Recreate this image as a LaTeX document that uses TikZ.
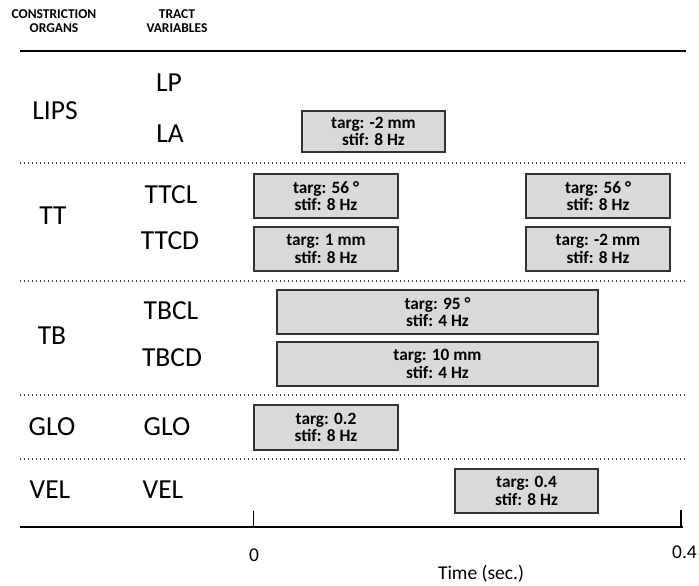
\documentclass[tikz,border=0pt]{standalone}
\usepackage{fontspec}
\setmainfont{Carlito}
\begin{document}
\begin{tikzpicture}[x=1pt,y=-1pt,
  gest/.style={draw=black!80,line width=1.1pt,fill=black!15,inner sep=0pt,font=\bfseries\fontsize{17.3}{17.5}\selectfont,align=center},
  big/.style={font=\fontsize{27.5}{29}\selectfont,inner sep=0pt},
  hdr/.style={font=\bfseries\fontsize{13.5}{13.5}\selectfont,align=center,inner sep=0pt},
  sep/.style={draw=black!70,line width=1.3pt,dash pattern=on 1.3pt off 2.7pt},
  axis/.style={line width=2.8pt},
  ax/.style={font=\fontsize{19.5}{21}\selectfont,inner sep=0pt}]
\useasboundingbox (0,0) rectangle (699,586);
% header
\node[hdr] (h1) at (54,21) {CONSTRICTION\\ORGANS};
\node[hdr] (h2) at (177,21) {TRACT\\VARIABLES};
\coordinate (tl) at (20,51); \coordinate (tr) at (686,51);
\draw[axis] (tl) -- (tr);
% labels
\node[big] (lips) at (55,111) {LIPS};
\node[big] (lp) at (169,83) {LP};
\node[big] (la) at (170,134) {LA};
\node[big] (tt) at (53,216) {TT};
\node[big] (ttcl) at (171,195) {TTCL};
\node[big] (ttcd) at (170,241) {TTCD};
\node[big] (tb) at (52,336) {TB};
\node[big] (tbcl) at (171,311) {TBCL};
\node[big] (tbcd) at (172,358) {TBCD};
\node[big] (glo1) at (52,427) {GLO};
\node[big] (glo2) at (167,427) {GLO};
\node[big] (vel1) at (50,490) {VEL};
\node[big] (vel2) at (163,490) {VEL};
% separators
\foreach \y/\n in {163/s1,281/s2,395/s3,459/s4}{
  \coordinate (\n a) at (20,\y); \coordinate (\n b) at (686,\y);
  \draw[sep] (\n a) -- (\n b);
}
% gestures
\node[gest,minimum width=143pt,minimum height=41pt] (bla) at (373.5,131.5) {targ: -2 mm\\stif: 8 Hz};
\node[gest,minimum width=144pt,minimum height=44pt] (bttcl1) at (326,196) {targ: 56 \textdegree\\stif: 8 Hz};
\node[gest,minimum width=144pt,minimum height=44pt] (bttcl2) at (598,196) {targ: 56 \textdegree\\stif: 8 Hz};
\node[gest,minimum width=144pt,minimum height=44pt] (bttcd1) at (326,249) {targ: 1 mm\\stif: 8 Hz};
\node[gest,minimum width=144pt,minimum height=44pt] (bttcd2) at (598,249) {targ: -2 mm\\stif: 8 Hz};
\node[gest,minimum width=321pt,minimum height=44pt] (btbcl) at (437.5,312) {targ: 95 \textdegree\\stif: 4 Hz};
\node[gest,minimum width=321pt,minimum height=44pt] (btbcd) at (437.5,364) {targ: 10 mm\\stif: 4 Hz};
\node[gest,minimum width=144pt,minimum height=45pt] (bglo) at (326,427.5) {targ: 0.2\\stif: 8 Hz};
\node[gest,minimum width=143pt,minimum height=44pt] (bvel) at (526.5,491) {targ: 0.4\\stif: 8 Hz};
% axis
\coordinate (bl) at (20,527); \coordinate (br) at (683,527);
\draw[axis] (bl) -- (br);
\coordinate (t0a) at (253,511); \coordinate (t0b) at (253,527);
\coordinate (t4a) at (681,510); \coordinate (t4b) at (681,527);
\draw[line width=0.8pt] (t0a) -- (t0b);
\draw[line width=1.4pt] (t4a) -- (t4b);
\node[ax] (z) at (254,555) {0};
\node[ax,anchor=east] (f) at (697,552) {0.4};
\node[ax] (tm) at (481,574) {Time (sec.)};
\end{tikzpicture}
\end{document}
